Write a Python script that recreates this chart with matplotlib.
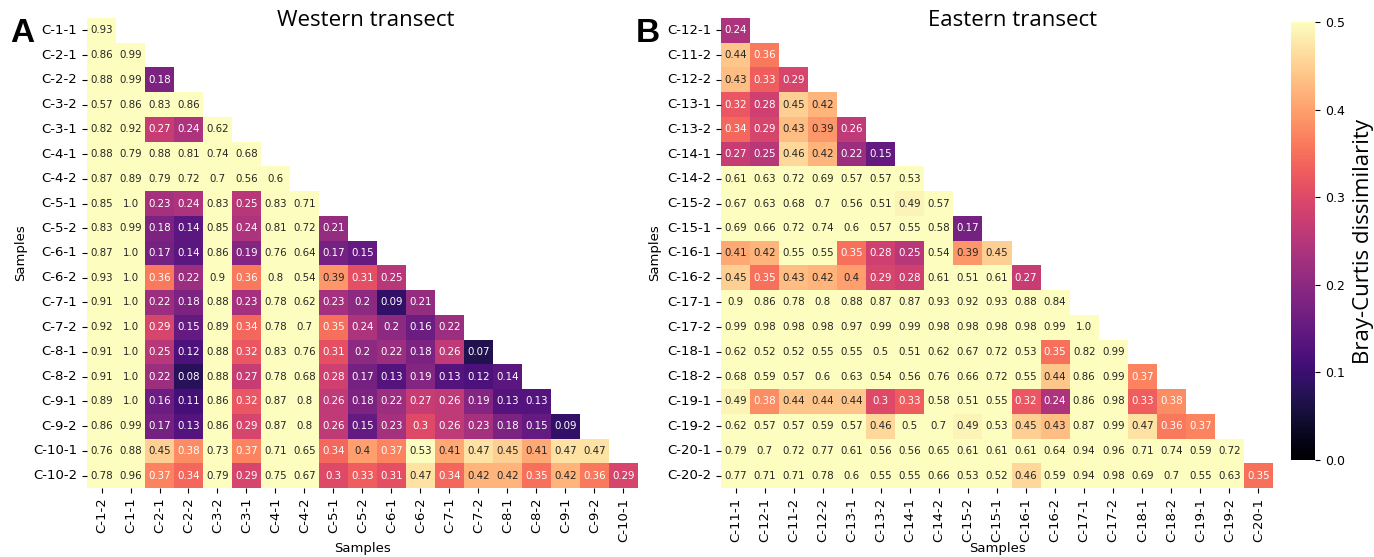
import matplotlib
matplotlib.use('Agg')
import matplotlib.pyplot as plt
import numpy as np
import seaborn as sns

# Western transect (lower triangle, row i has i+1 values)
west_rows = ['C-1-1', 'C-2-1', 'C-2-2', 'C-3-2', 'C-3-1', 'C-4-1', 'C-4-2',
             'C-5-1', 'C-5-2', 'C-6-1', 'C-6-2', 'C-7-1', 'C-7-2', 'C-8-1',
             'C-8-2', 'C-9-1', 'C-9-2', 'C-10-1', 'C-10-2']
west_cols = ['C-1-2', 'C-1-1', 'C-2-1', 'C-2-2', 'C-3-2', 'C-3-1', 'C-4-1',
             'C-4-2', 'C-5-1', 'C-5-2', 'C-6-1', 'C-6-2', 'C-7-1', 'C-7-2',
             'C-8-1', 'C-8-2', 'C-9-1', 'C-9-2', 'C-10-1']
west_vals = [
    [0.93],
    [0.86, 0.99],
    [0.88, 0.99, 0.18],
    [0.57, 0.86, 0.83, 0.86],
    [0.82, 0.92, 0.27, 0.24, 0.62],
    [0.88, 0.79, 0.88, 0.81, 0.74, 0.68],
    [0.87, 0.89, 0.79, 0.72, 0.7, 0.56, 0.6],
    [0.85, 1.0, 0.23, 0.24, 0.83, 0.25, 0.83, 0.71],
    [0.83, 0.99, 0.18, 0.14, 0.85, 0.24, 0.81, 0.72, 0.21],
    [0.87, 1.0, 0.17, 0.14, 0.86, 0.19, 0.76, 0.64, 0.17, 0.15],
    [0.93, 1.0, 0.36, 0.22, 0.9, 0.36, 0.8, 0.54, 0.39, 0.31, 0.25],
    [0.91, 1.0, 0.22, 0.18, 0.88, 0.23, 0.78, 0.62, 0.23, 0.2, 0.09, 0.21],
    [0.92, 1.0, 0.29, 0.15, 0.89, 0.34, 0.78, 0.7, 0.35, 0.24, 0.2, 0.16,
     0.22],
    [0.91, 1.0, 0.25, 0.12, 0.88, 0.32, 0.83, 0.76, 0.31, 0.2, 0.22, 0.18,
     0.26, 0.07],
    [0.91, 1.0, 0.22, 0.08, 0.88, 0.27, 0.78, 0.68, 0.28, 0.17, 0.13, 0.19,
     0.13, 0.12, 0.14],
    [0.89, 1.0, 0.16, 0.11, 0.86, 0.32, 0.87, 0.8, 0.26, 0.18, 0.22, 0.27,
     0.26, 0.19, 0.13, 0.13],
    [0.86, 0.99, 0.17, 0.13, 0.86, 0.29, 0.87, 0.8, 0.26, 0.15, 0.23, 0.3,
     0.26, 0.23, 0.18, 0.15, 0.09],
    [0.76, 0.88, 0.45, 0.38, 0.73, 0.37, 0.71, 0.65, 0.34, 0.4, 0.37, 0.53,
     0.41, 0.47, 0.45, 0.41, 0.47, 0.47],
    [0.78, 0.96, 0.37, 0.34, 0.79, 0.29, 0.75, 0.67, 0.3, 0.33, 0.31, 0.47,
     0.34, 0.42, 0.42, 0.35, 0.42, 0.36, 0.29],
]

# Eastern transect
east_rows = ['C-12-1', 'C-11-2', 'C-12-2', 'C-13-1', 'C-13-2', 'C-14-1',
             'C-14-2', 'C-15-2', 'C-15-1', 'C-16-1', 'C-16-2', 'C-17-1',
             'C-17-2', 'C-18-1', 'C-18-2', 'C-19-1', 'C-19-2', 'C-20-1',
             'C-20-2']
east_cols = ['C-11-1', 'C-12-1', 'C-11-2', 'C-12-2', 'C-13-1', 'C-13-2',
             'C-14-1', 'C-14-2', 'C-15-2', 'C-15-1', 'C-16-1', 'C-16-2',
             'C-17-1', 'C-17-2', 'C-18-1', 'C-18-2', 'C-19-1', 'C-19-2',
             'C-20-1']
east_vals = [
    [0.24],
    [0.44, 0.36],
    [0.43, 0.33, 0.29],
    [0.32, 0.28, 0.45, 0.42],
    [0.34, 0.29, 0.43, 0.39, 0.26],
    [0.27, 0.25, 0.46, 0.42, 0.22, 0.15],
    [0.61, 0.63, 0.72, 0.69, 0.57, 0.57, 0.53],
    [0.67, 0.63, 0.68, 0.7, 0.56, 0.51, 0.49, 0.57],
    [0.69, 0.66, 0.72, 0.74, 0.6, 0.57, 0.55, 0.58, 0.17],
    [0.41, 0.42, 0.55, 0.55, 0.35, 0.28, 0.25, 0.54, 0.39, 0.45],
    [0.45, 0.35, 0.43, 0.42, 0.4, 0.29, 0.28, 0.61, 0.51, 0.61, 0.27],
    [0.9, 0.86, 0.78, 0.8, 0.88, 0.87, 0.87, 0.93, 0.92, 0.93, 0.88, 0.84],
    [0.99, 0.98, 0.98, 0.98, 0.97, 0.99, 0.99, 0.98, 0.98, 0.98, 0.98, 0.99,
     1.0],
    [0.62, 0.52, 0.52, 0.55, 0.55, 0.5, 0.51, 0.62, 0.67, 0.72, 0.53, 0.35,
     0.82, 0.99],
    [0.68, 0.59, 0.57, 0.6, 0.63, 0.54, 0.56, 0.76, 0.66, 0.72, 0.55, 0.44,
     0.86, 0.99, 0.37],
    [0.49, 0.38, 0.44, 0.44, 0.44, 0.3, 0.33, 0.58, 0.51, 0.55, 0.32, 0.24,
     0.86, 0.98, 0.33, 0.38],
    [0.62, 0.57, 0.57, 0.59, 0.57, 0.46, 0.5, 0.7, 0.49, 0.53, 0.45, 0.43,
     0.87, 0.99, 0.47, 0.36, 0.37],
    [0.79, 0.7, 0.72, 0.77, 0.61, 0.56, 0.56, 0.65, 0.61, 0.61, 0.61, 0.64,
     0.94, 0.96, 0.71, 0.74, 0.59, 0.72],
    [0.77, 0.71, 0.71, 0.78, 0.6, 0.55, 0.55, 0.66, 0.53, 0.52, 0.46, 0.59,
     0.94, 0.98, 0.69, 0.7, 0.55, 0.63, 0.35],
]


def to_matrix(rows):
    n = len(rows)
    mat = np.full((n, n), np.nan)
    for i, r in enumerate(rows):
        mat[i, :len(r)] = r
    return mat


def fmt(v):
    if np.isnan(v):
        return ''
    s = f'{v:.2f}'.rstrip('0')
    if s.endswith('.'):
        s += '0'
    return s


W, H = 1374, 557
fig = plt.figure(figsize=(W / 100, H / 100), dpi=100)

ax_w = fig.add_axes([87 / W, 69 / H, 551 / W, 470 / H])
ax_e = fig.add_axes([721 / W, 69 / H, 552 / W, 470 / H])
cax = fig.add_axes([1291 / W, 97 / H, 24 / W, 438 / H])

panels = [(ax_w, west_vals, west_rows, west_cols),
          (ax_e, east_vals, east_rows, east_cols)]
for k, (ax, vals, rlab, clab) in enumerate(panels):
    mat = to_matrix(vals)
    annot = np.vectorize(fmt)(mat)
    sns.heatmap(mat, ax=ax, cmap='magma', vmin=0, vmax=0.5,
                mask=np.isnan(mat), annot=annot, fmt='',
                annot_kws={'fontsize': 7.4},
                xticklabels=clab, yticklabels=rlab,
                cbar=(k == 1), cbar_ax=cax if k == 1 else None,
                cbar_kws={'ticks': [0, 0.1, 0.2, 0.3, 0.4, 0.5]})
    ax.set_xticklabels(clab, rotation=90, fontsize=9.5)
    ax.set_yticklabels(rlab, rotation=0, fontsize=9.5)
    ax.set_xlabel('Samples', fontsize=9.5, labelpad=0)
    ax.set_ylabel('Samples', fontsize=9.5)

cax.tick_params(labelsize=9)
cax.yaxis.set_major_formatter(matplotlib.ticker.FormatStrFormatter('%.1f'))
cax.set_ylabel('Bray-Curtis dissimilarity', fontsize=16,
               family=['Open Sans', 'DejaVu Sans'], labelpad=6)

fig.text(366 / W, 1 - 20 / H, 'Western transect', fontsize=16,
         family=['Open Sans', 'DejaVu Sans'], ha='center', va='center')
fig.text(1013 / W, 1 - 20 / H, 'Eastern transect', fontsize=16,
         family=['Open Sans', 'DejaVu Sans'], ha='center', va='center')
fig.text(22 / W, 1 - 33 / H, 'A', fontsize=24, fontweight='bold',
         family=['Liberation Sans', 'DejaVu Sans'], ha='center', va='center')
fig.text(648 / W, 1 - 33 / H, 'B', fontsize=24, fontweight='bold',
         family=['Liberation Sans', 'DejaVu Sans'], ha='center', va='center')

fig.savefig('out.png', dpi=100, facecolor='white')
